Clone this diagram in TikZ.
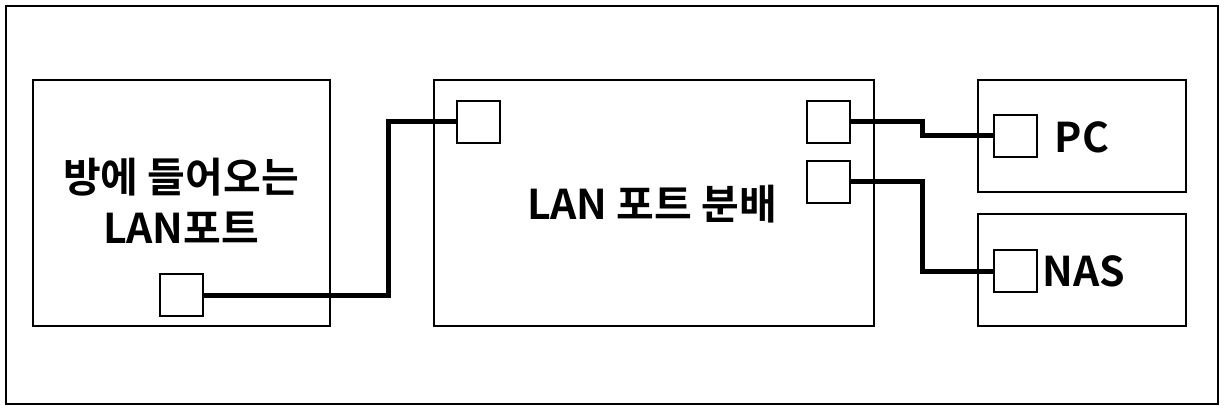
\documentclass[tikz,border=0pt]{standalone}
\usepackage{fontspec}
\setmainfont{Noto Sans CJK KR}[BoldFont={* Bold}]
\begin{document}
\begin{tikzpicture}[x=0.5pt,y=-0.5pt,
  frame/.style={draw=black,line width=1pt},
  port/.style={draw=black,line width=0.75pt,fill=white},
  cable/.style={draw=black,line width=2.5pt},
  lbl/.style={font=\bfseries\fontsize{20.5}{25.5}\selectfont,align=center,inner sep=0pt}]
\useasboundingbox (0,0) rectangle (1224,411);
\draw[frame] (6,6) rectangle (1218,404);
% boxes
\draw[frame] (33,80) rectangle (330,326);
\draw[frame] (434,80) rectangle (874,326);
\draw[frame] (978,80) rectangle (1186,192);
\draw[frame] (978,214) rectangle (1186,326);
% labels
\node[lbl] (tin) at (181,201) {방에 들어오는\\LAN포트};
\node[lbl] (tdist) at (652,204) {LAN 포트 분배};
\node[lbl] (tpc) at (1082,137) {PC};
\node[lbl] (tnas) at (1084,271) {NAS};
% cable bends
\coordinate (b1) at (388,295);
\coordinate (b2) at (388,122);
\coordinate (c1) at (922,122);
\coordinate (c2) at (922,136);
\coordinate (d1) at (922,182);
\coordinate (d2) at (922,271);
% ports (coordinates for connector ends)
\coordinate (pin) at (203,295);
\coordinate (pa) at (457,122);
\coordinate (pb) at (850,122);
\coordinate (pc) at (850,182);
\coordinate (ppc) at (994,136);
\coordinate (pnas) at (994,271);
\draw[cable] (pin) -- (b1) -- (b2) -- (pa);
\draw[cable] (pb) -- (c1) -- (c2) -- (ppc);
\draw[cable] (pc) -- (d1) -- (d2) -- (pnas);
\draw[port] (160,274) rectangle (203,316);
\draw[port] (457,101) rectangle (500,143);
\draw[port] (807,101) rectangle (850,143);
\draw[port] (807,161) rectangle (850,203);
\draw[port] (994,115) rectangle (1037,157);
\draw[port] (994,250) rectangle (1037,292);
\end{tikzpicture}
\end{document}
